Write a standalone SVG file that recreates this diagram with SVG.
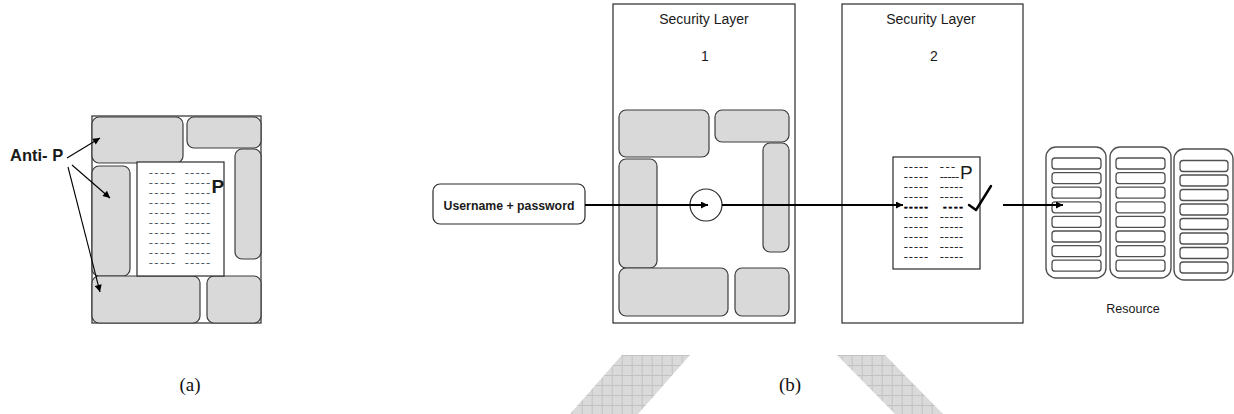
<svg xmlns="http://www.w3.org/2000/svg" width="1234" height="414" viewBox="0 0 1234 414">
  <style>
    .frame { fill: #ffffff; stroke: #2a2a2a; stroke-width: 1.2; }
    .blk { fill: #d9d9d9; stroke: #3c3c3c; stroke-width: 1.2; }
    .doc { fill: #ffffff; stroke: #2a2a2a; stroke-width: 1.2; }
    .rack { fill: #ffffff; stroke: #505050; stroke-width: 1.4; }
    .slot { fill: #ffffff; stroke: #505050; stroke-width: 1.3; }
    .sans { font-family: "Liberation Sans", Arial, sans-serif; fill: #1a1a1a; }
    .dashA { font-family: "Liberation Sans", Arial, sans-serif; font-size: 11px; fill: #4f5563; stroke: #4f5563; stroke-width: 0.35; }
    .dashB { font-family: "Liberation Sans", Arial, sans-serif; font-size: 11px; fill: #1c1c1c; stroke: #1c1c1c; stroke-width: 0.35; }
    .strong { font-weight: bold; fill: #000000; stroke: #000000; stroke-width: 0.5; }
    .cap { font-family: "Liberation Serif", "Times New Roman", serif; font-size: 19px; fill: #111111; }
    .flow { fill: none; stroke: #000000; stroke-width: 2; }
    .thin { fill: none; stroke: #000000; stroke-width: 1.1; }
  </style>
  <defs>
    <marker id="head" viewBox="0 0 10 10" refX="10" refY="5" markerWidth="8" markerHeight="7" markerUnits="userSpaceOnUse" orient="auto">
      <path d="M0,0 L10,5 L0,10 z" fill="#000000"/>
    </marker>
    <marker id="headThin" viewBox="0 0 10 10" refX="10" refY="5" markerWidth="10" markerHeight="7" markerUnits="userSpaceOnUse" orient="auto">
      <path d="M0,0 L10,5 L0,10 z" fill="#000000"/>
    </marker>
    <pattern id="grid" patternUnits="userSpaceOnUse" x="1.7" y="5" width="10" height="10">
      <rect width="10" height="10" fill="#dadada"/>
      <path d="M0,0.5 H10 M0.5,0 V10" stroke="#c2c2c2" stroke-width="1"/>
    </pattern>
  </defs>

  <!-- (a) anti-pattern wall around the password list -->
  <g id="panel-a">
    <rect class="frame" x="92" y="116" width="169" height="207"/>
    <rect class="blk" x="92" y="117" width="91" height="46" rx="7"/>
    <rect class="blk" x="187" y="117" width="74" height="31" rx="7"/>
    <rect class="blk" x="235" y="149" width="26" height="110" rx="7"/>
    <rect class="blk" x="92" y="166" width="38" height="110" rx="7"/>
    <rect class="blk" x="92" y="276" width="108" height="47" rx="7"/>
    <rect class="blk" x="207" y="276" width="54" height="47" rx="7"/>
  </g>
  <g id="doc-a">
    <rect class="doc" x="137" y="162" width="87" height="114"/>
    <text class="dashA">
      <tspan x="149" y="176" textLength="26" lengthAdjust="spacing">-----</tspan>
      <tspan x="149" y="186" textLength="26" lengthAdjust="spacing">-----</tspan>
      <tspan x="149" y="196" textLength="26" lengthAdjust="spacing">-----</tspan>
      <tspan x="149" y="206" textLength="26" lengthAdjust="spacing">-----</tspan>
      <tspan x="149" y="216" textLength="26" lengthAdjust="spacing">-----</tspan>
      <tspan x="149" y="226" textLength="26" lengthAdjust="spacing">-----</tspan>
      <tspan x="149" y="236" textLength="26" lengthAdjust="spacing">-----</tspan>
      <tspan x="149" y="246" textLength="26" lengthAdjust="spacing">-----</tspan>
      <tspan x="149" y="256" textLength="26" lengthAdjust="spacing">-----</tspan>
      <tspan x="149" y="266" textLength="26" lengthAdjust="spacing">-----</tspan>
    </text>
    <text class="dashA">
      <tspan x="185" y="176" textLength="25" lengthAdjust="spacing">-----</tspan>
      <tspan x="185" y="186" textLength="25" lengthAdjust="spacing">-----</tspan>
      <tspan x="185" y="196" textLength="25" lengthAdjust="spacing">-----</tspan>
      <tspan x="185" y="206" textLength="25" lengthAdjust="spacing">-----</tspan>
      <tspan x="185" y="216" textLength="25" lengthAdjust="spacing">-----</tspan>
      <tspan x="185" y="226" textLength="25" lengthAdjust="spacing">-----</tspan>
      <tspan x="185" y="236" textLength="25" lengthAdjust="spacing">-----</tspan>
      <tspan x="185" y="246" textLength="25" lengthAdjust="spacing">-----</tspan>
      <tspan x="185" y="256" textLength="25" lengthAdjust="spacing">-----</tspan>
      <tspan x="185" y="266" textLength="25" lengthAdjust="spacing">-----</tspan>
    </text>
    <text class="sans" x="211.5" y="193" font-size="19" font-weight="bold" fill="#111">P</text>
  </g>
  <g id="label-anti-p">
    <text class="sans" x="10" y="161" font-size="16.5" font-weight="bold">Anti- P</text>
  </g>
  <text class="cap" x="190" y="391" text-anchor="middle">(a)</text>

  <!-- (b) request path through two security layers -->
  <g id="layer-1">
    <rect class="frame" x="613" y="4" width="182" height="319"/>
    <text class="sans" x="704" y="24" font-size="14" text-anchor="middle">Security Layer</text>
    <text class="sans" x="705" y="61" font-size="14" text-anchor="middle">1</text>
    <rect class="blk" x="619" y="110" width="90" height="47" rx="7"/>
    <rect class="blk" x="715" y="110" width="74" height="32" rx="7"/>
    <rect class="blk" x="763" y="143" width="26" height="109" rx="7"/>
    <rect class="blk" x="619" y="159" width="38" height="109" rx="7"/>
    <rect class="blk" x="619" y="268" width="109" height="48" rx="7"/>
    <rect class="blk" x="735" y="268" width="54" height="48" rx="7"/>
    <circle cx="706" cy="205" r="16" fill="none" stroke="#2a2a2a" stroke-width="1.2"/>
  </g>

  <g id="layer-2">
    <rect class="frame" x="842" y="4" width="181" height="319"/>
    <text class="sans" x="931" y="24" font-size="14" text-anchor="middle">Security Layer</text>
    <text class="sans" x="934" y="61" font-size="14" text-anchor="middle">2</text>
  </g>
  <g id="doc-b">
    <rect class="doc" x="893" y="157" width="87" height="112"/>
    <text class="dashB">
      <tspan x="904" y="170" textLength="24" lengthAdjust="spacing">-----</tspan>
      <tspan x="904" y="180" textLength="24" lengthAdjust="spacing">-----</tspan>
      <tspan x="904" y="190" textLength="24" lengthAdjust="spacing">-----</tspan>
      <tspan x="904" y="200" textLength="24" lengthAdjust="spacing">-----</tspan>
      <tspan class="strong" x="904" y="210" textLength="24" lengthAdjust="spacing">-----</tspan>
      <tspan x="904" y="220" textLength="24" lengthAdjust="spacing">-----</tspan>
      <tspan x="904" y="230" textLength="24" lengthAdjust="spacing">-----</tspan>
      <tspan x="904" y="240" textLength="24" lengthAdjust="spacing">-----</tspan>
      <tspan x="904" y="250" textLength="24" lengthAdjust="spacing">-----</tspan>
      <tspan x="904" y="260" textLength="24" lengthAdjust="spacing">-----</tspan>
    </text>
    <text class="dashB">
      <tspan x="940" y="170" textLength="15" lengthAdjust="spacing">---</tspan>
      <tspan x="940" y="180" textLength="19" lengthAdjust="spacing">-----</tspan>
      <tspan x="940" y="190" textLength="23" lengthAdjust="spacing">-----</tspan>
      <tspan x="940" y="200" textLength="23" lengthAdjust="spacing">-----</tspan>
      <tspan class="strong" x="943" y="210" textLength="20" lengthAdjust="spacing">----</tspan>
      <tspan x="940" y="220" textLength="23" lengthAdjust="spacing">-----</tspan>
      <tspan x="940" y="230" textLength="23" lengthAdjust="spacing">-----</tspan>
      <tspan x="940" y="240" textLength="23" lengthAdjust="spacing">-----</tspan>
      <tspan x="940" y="250" textLength="23" lengthAdjust="spacing">-----</tspan>
      <tspan x="940" y="260" textLength="23" lengthAdjust="spacing">-----</tspan>
    </text>
    <text class="sans" x="960" y="179" font-size="19" fill="#5e1414">P</text>
    <polyline points="969,205 976,210 991,186" fill="none" stroke="#000" stroke-width="2.4" stroke-linejoin="round" stroke-linecap="round"/>
  </g>

  <g id="credentials">
    <rect class="frame" x="433" y="184" width="152" height="40" rx="7"/>
    <text class="sans" x="509" y="210" font-size="12.3" font-weight="bold" text-anchor="middle">Username + password</text>
  </g>

  <g id="resource">
    <rect class="rack" x="1046" y="147" width="60" height="131" rx="10"/>
    <rect class="slot" x="1052" y="158" width="49" height="11" rx="3"/>
    <rect class="slot" x="1052" y="172.6" width="49" height="11" rx="3"/>
    <rect class="slot" x="1052" y="187.2" width="49" height="11" rx="3"/>
    <rect class="slot" x="1052" y="201.8" width="49" height="11" rx="3"/>
    <rect class="slot" x="1052" y="216.4" width="49" height="11" rx="3"/>
    <rect class="slot" x="1052" y="231" width="49" height="11" rx="3"/>
    <rect class="slot" x="1052" y="245.6" width="49" height="11" rx="3"/>
    <rect class="slot" x="1052" y="260.2" width="49" height="11" rx="3"/>

    <rect class="rack" x="1110" y="147" width="61" height="131" rx="10"/>
    <rect class="slot" x="1116" y="158" width="49" height="11" rx="3"/>
    <rect class="slot" x="1116" y="172.6" width="49" height="11" rx="3"/>
    <rect class="slot" x="1116" y="187.2" width="49" height="11" rx="3"/>
    <rect class="slot" x="1116" y="201.8" width="49" height="11" rx="3"/>
    <rect class="slot" x="1116" y="216.4" width="49" height="11" rx="3"/>
    <rect class="slot" x="1116" y="231" width="49" height="11" rx="3"/>
    <rect class="slot" x="1116" y="245.6" width="49" height="11" rx="3"/>
    <rect class="slot" x="1116" y="260.2" width="49" height="11" rx="3"/>

    <rect class="rack" x="1174" y="149" width="59" height="131" rx="10"/>
    <rect class="slot" x="1180" y="160.5" width="48" height="11" rx="3"/>
    <rect class="slot" x="1180" y="175" width="48" height="11" rx="3"/>
    <rect class="slot" x="1180" y="189.5" width="48" height="11" rx="3"/>
    <rect class="slot" x="1180" y="204" width="48" height="11" rx="3"/>
    <rect class="slot" x="1180" y="218.5" width="48" height="11" rx="3"/>
    <rect class="slot" x="1180" y="233" width="48" height="11" rx="3"/>
    <rect class="slot" x="1180" y="247.5" width="48" height="11" rx="3"/>
    <rect class="slot" x="1180" y="262" width="48" height="11" rx="3"/>

    <text class="sans" x="1133" y="313" font-size="12.5" text-anchor="middle">Resource</text>
  </g>
  <text class="cap" x="790" y="391" text-anchor="middle">(b)</text>

  <!-- connectors -->
  <g id="connectors">
    <line class="thin" x1="67" y1="158" x2="100" y2="138" marker-end="url(#headThin)"/>
    <line class="thin" x1="72" y1="165" x2="110" y2="198" marker-end="url(#headThin)"/>
    <line class="thin" x1="68" y1="167" x2="100" y2="292" marker-end="url(#headThin)"/>
    <line class="flow" x1="585" y1="205" x2="708" y2="205" marker-end="url(#head)"/>
    <line class="flow" x1="722" y1="205" x2="903" y2="205" marker-end="url(#head)"/>
    <line class="flow" x1="1003" y1="205" x2="1063" y2="205" marker-end="url(#head)"/>
  </g>

  <!-- hatched ribbons along the bottom -->
  <g id="ribbons">
    <polygon points="622,355 690,355 638,414 570,414" fill="url(#grid)"/>
    <polygon points="837,355 885,355 943,414 895,414" fill="url(#grid)"/>
  </g>
</svg>
